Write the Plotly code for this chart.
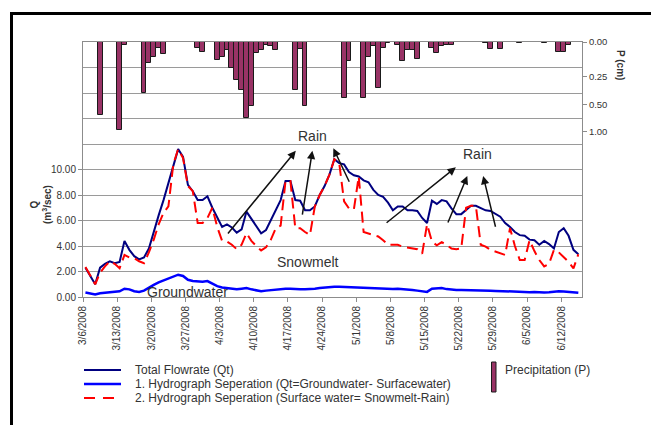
import numpy as np
import pandas as pd
import plotly.graph_objects as go

# ---- data -------------------------------------------------------------
START = pd.Timestamp("2008-03-06")
N_DAYS = 102
dates = [START + pd.Timedelta(days=i, hours=12) for i in range(N_DAYS)]

# Total flowrate Qt (m3/s)
total_flow = [
    2.3, 1.7, 1.0, 2.3, 2.6, 2.8, 2.65, 2.75, 4.4, 3.7,
    3.2, 2.95, 3.1, 3.8, 5.2, 6.4, 7.6, 8.9, 10.4, 11.6,
    11.0, 8.8, 8.3, 7.6, 7.6, 7.9, 7.0, 6.3, 5.5, 5.7,
    5.45, 5.05, 5.3, 6.7, 6.1, 5.5, 5.0, 5.25, 6.05, 6.8,
    7.6, 9.1, 9.1, 7.6, 7.55, 6.8, 6.8, 7.1, 8.0, 8.7,
    9.6, 10.8, 10.5, 10.4, 9.8, 9.55, 9.45, 9.15, 9.0, 8.4,
    8.0, 7.85, 7.4, 6.8, 7.1, 7.1, 6.8, 6.8, 6.75, 6.2,
    5.8, 7.55, 7.3, 7.6, 7.5, 6.95, 6.5, 6.5, 6.8, 7.15,
    7.15, 6.95, 6.8, 6.75, 6.55, 6.3, 5.8, 5.5, 5.1, 4.85,
    4.8, 4.5, 4.45, 4.1, 4.4, 4.15, 3.8, 5.1, 5.4, 4.8,
    3.7, 3.35,
]

# Separation 1: groundwater component
groundwater = [
    0.35, 0.3, 0.2, 0.3, 0.35, 0.4, 0.4, 0.45, 0.65, 0.6,
    0.45, 0.4, 0.5, 0.75, 0.95, 1.15, 1.3, 1.45, 1.6, 1.75,
    1.65, 1.35, 1.25, 1.2, 1.2, 1.25, 1.05, 0.85, 0.75, 0.7,
    0.65, 0.6, 0.65, 0.7, 0.6, 0.5, 0.45, 0.5, 0.55, 0.55,
    0.6, 0.65, 0.65, 0.6, 0.6, 0.6, 0.6, 0.65, 0.7, 0.75,
    0.8, 0.8, 0.8, 0.78, 0.76, 0.75, 0.75, 0.72, 0.7, 0.68,
    0.66, 0.63, 0.6, 0.62, 0.65, 0.63, 0.6, 0.55, 0.5, 0.45,
    0.4, 0.65, 0.68, 0.7, 0.62, 0.56, 0.55, 0.55, 0.55, 0.55,
    0.54, 0.52, 0.5, 0.5, 0.48, 0.46, 0.44, 0.42, 0.4, 0.4,
    0.38, 0.38, 0.4, 0.36, 0.36, 0.38, 0.42, 0.45, 0.44, 0.42,
    0.36, 0.33,
]

# Separation 2: surface water (snowmelt + rain)
surface_water = [
    2.35, 1.7, 1.0, 1.9, 2.4, 2.8, 2.6, 2.25, 3.3, 3.1,
    3.05, 2.8, 2.65, 3.5, 4.5, 5.7, 6.6, 7.1, 10.4, 11.6,
    10.9, 8.7, 8.3, 5.8, 5.8, 6.2, 7.0, 5.5, 4.4, 4.35,
    4.1, 3.75, 4.1, 5.0, 4.4, 4.0, 3.65, 3.9, 4.5, 5.4,
    5.6, 9.1, 9.1, 5.4, 5.4, 5.1, 4.85, 7.1, 8.0, 8.7,
    9.6, 10.8, 10.5, 7.5, 6.95, 6.85, 9.45, 5.1, 5.0, 4.85,
    4.75, 4.45, 4.1, 4.1, 4.1, 3.95, 3.9, 3.8, 3.75, 3.4,
    5.7, 4.35, 4.05, 4.3, 4.1, 3.8, 3.75, 3.8, 7.0, 7.15,
    7.15, 4.1, 3.95, 3.7, 3.55, 3.4, 3.3, 5.4, 4.0, 2.9,
    2.9, 4.45, 3.6, 2.9, 2.4, 2.6, 3.7, 3.5, 3.15, 2.75,
    2.25, 3.35,
]

# Daily precipitation P (cm)
precip_cm = [
    0, 0, 0, 0.69, 0, 0, 0, 0.97, 0.02, 0,
    0, 0, 0.39, 0.15, 0.11, 0.04, 0.09, 0, 0, 0,
    0, 0, 0, 0.04, 0.07, 0, 0, 0.13, 0.11, 0.06,
    0.19, 0.28, 0.37, 0.74, 0.52, 0.08, 0.06, 0.02, 0.03, 0.06,
    0, 0, 0, 0.37, 0.05, 0.51, 0, 0, 0, 0,
    0, 0, 0, 0.44, 0.14, 0, 0, 0.44, 0.11, 0.03,
    0.35, 0.04, 0.01, 0, 0.02, 0.14, 0.06, 0.06, 0.12, 0,
    0, 0.04, 0.08, 0.03, 0.02, 0.02, 0, 0, 0, 0,
    0, 0, 0.01, 0.05, 0, 0.05, 0, 0, 0, 0.005,
    0, 0, 0, 0, 0.005, 0, 0, 0.07, 0.07, 0.02,
    0, 0,
]

week_ticks = pd.date_range("2008-03-06", "2008-06-12", freq="7D")
week_labels = [f"{d.month}/{d.day}/{d.year}" for d in week_ticks]

q_ticks = list(range(0, 11, 2))
q_labels = [f"{v:.2f}" for v in q_ticks]
q_upper_grid = list(range(12, 21, 2))

# The precipitation axis hangs from the top with unevenly spaced ticks;
# values are placed through that piecewise scale (fraction of plot height).
P_TICKS = [0.0, 0.25, 0.50, 1.00]
P_TICK_LABELS = ["0.00", "0.25", "0.50", "1.00"]
P_TICK_POS = [0.0, 0.136, 0.247, 0.352]


def p_scale(v):
    return float(np.interp(v, P_TICKS + [2.0], P_TICK_POS + [0.562]))


# ---- figure geometry ----------------------------------------------------
W, H = 651, 425
ML, MR, MT, MB = 83, 69, 42, 128
PW, PH = W - ML - MR, H - MT - MB


def px(xp):
    return (xp - ML) / PW


def py(yp):
    return (H - MB - yp) / PH


FONT = "Liberation Sans, Arial, sans-serif"
TXT = "#333333"
AX = "#8c8c8c"
GRID = "#9a9a9a"
BAR_FILL = "#993366"

fig = go.Figure()

fig.add_trace(go.Bar(
    x=dates,
    y=[p_scale(p) if p > 0 else None for p in precip_cm],
    yaxis="y2",
    width=86400000,
    marker=dict(color=BAR_FILL, line=dict(color="#1a1a1a", width=1)),
    name="Precipitation (P)",
    showlegend=False,
))
fig.add_trace(go.Scatter(
    x=dates, y=total_flow, mode="lines",
    line=dict(color="#000080", width=2),
    name="Total Flowrate (Qt)", showlegend=False,
))
fig.add_trace(go.Scatter(
    x=dates, y=surface_water, mode="lines",
    line=dict(color="#ff0000", width=2, dash="11px,6px"),
    name="2. Hydrograph Seperation", showlegend=False,
))
fig.add_trace(go.Scatter(
    x=dates, y=groundwater, mode="lines",
    line=dict(color="#0000ff", width=2.5),
    name="1. Hydrograph Seperation", showlegend=False,
))

fig.update_layout(
    width=W, height=H,
    margin=dict(l=ML, r=MR, t=MT, b=MB, pad=0),
    paper_bgcolor="white", plot_bgcolor="white",
    font=dict(family=FONT, color=TXT),
    bargap=0,
    xaxis=dict(
        type="date",
        range=[START, pd.Timestamp("2008-06-16 06:00")],
        tickvals=list(week_ticks), ticktext=week_labels,
        tickangle=-90, tickfont=dict(size=10, color=TXT),
        ticks="outside", ticklen=4, tickcolor=AX,
        showline=True, linecolor=AX, linewidth=1, mirror=True,
        showgrid=False, zeroline=False,
    ),
    yaxis=dict(
        range=[0, 20],
        tickvals=q_ticks, ticktext=q_labels,
        tickfont=dict(size=10, color=TXT),
        ticks="outside", ticklen=4, tickcolor=AX,
        showline=True, linecolor=AX, linewidth=1,
        showgrid=True, gridcolor=GRID, gridwidth=1,
        minor=dict(tickvals=q_upper_grid, showgrid=True,
                   gridcolor=GRID, gridwidth=1, ticks=""),
        zeroline=False,
    ),
    yaxis2=dict(
        overlaying="y", side="right",
        range=[1, 0],
        tickvals=[p_scale(v) for v in P_TICKS], ticktext=P_TICK_LABELS,
        tickfont=dict(size=9.5, color=TXT),
        ticks="outside", ticklen=4, tickcolor=AX,
        showline=True, linecolor=AX, linewidth=1,
        showgrid=False, zeroline=False,
    ),
)


def day(d):
    return START + pd.Timedelta(days=d)


annotations = [
    # axis titles
    dict(x=px(41), y=py(205), xref="paper", yref="paper",
         xanchor="center", yanchor="middle",
         text="<b>Q</b><br><b>(m<sup>3</sup>/sec)</b>", textangle=-90,
         showarrow=False, font=dict(size=10, color=TXT)),
    dict(x=px(621), y=py(65), xref="paper", yref="paper",
         xanchor="center", yanchor="middle",
         text="<b>P (cm)</b>", textangle=90,
         showarrow=False, font=dict(size=10, color=TXT)),
    # labels inside the chart
    dict(x=day(47.1), y=12.63, text="Rain", showarrow=False,
         font=dict(size=14, color=TXT)),
    dict(x=day(80.9), y=11.2, text="Rain", showarrow=False,
         font=dict(size=14, color=TXT)),
    dict(x=day(46.1), y=2.75, text="Snowmelt", showarrow=False,
         font=dict(size=14, color=TXT)),
    dict(x=day(21.5), y=0.39, text="Groundwater", showarrow=False,
         font=dict(size=14, color=TXT)),
]

# rain arrows: (tail day, tail Q, head day, head Q)
arrows = [
    (29.45, 4.86, 43.6, 11.47),
    (44.9, 6.35, 47.0, 11.47),
    (54.7, 8.92, 51.3, 11.66),
    (61.9, 5.73, 76.4, 10.17),
    (74.65, 5.73, 78.75, 9.49),
    (84.6, 5.39, 82.0, 9.49),
]
for td, tq, hd, hq in arrows:
    annotations.append(dict(
        x=day(hd), y=hq, ax=day(td), ay=tq,
        xref="x", yref="y", axref="x", ayref="y",
        text="", showarrow=True, arrowhead=2, arrowsize=1.1,
        arrowwidth=1.5, arrowcolor="#111111",
    ))

# legend entries
legend_rows = [
    ("Total Flowrate (Qt)", 370),
    ("1. Hydrograph Seperation (Qt=Groundwater- Surfacewater)", 384),
    ("2. Hydrograph Seperation (Surface water= Snowmelt-Rain)", 398),
]
for label, yrow in legend_rows:
    annotations.append(dict(
        x=px(133), y=py(yrow), xref="paper", yref="paper",
        xanchor="left", yanchor="middle", text=label, showarrow=False,
        font=dict(size=12, color=TXT),
    ))
annotations.append(dict(
    x=px(503), y=py(370), xref="paper", yref="paper",
    xanchor="left", yanchor="middle", text="Precipitation (P)",
    showarrow=False, font=dict(size=12, color=TXT),
))

shapes = [
    # outer frame (left and top edges)
    dict(type="line", xref="paper", yref="paper",
         x0=px(11.5), x1=px(11.5), y0=py(12), y1=py(430),
         line=dict(color="black", width=3)),
    dict(type="line", xref="paper", yref="paper",
         x0=px(10), x1=px(660), y0=py(13.5), y1=py(13.5),
         line=dict(color="black", width=3)),
    # legend keys
    dict(type="line", xref="paper", yref="paper",
         x0=px(84), x1=px(121), y0=py(370), y1=py(370),
         line=dict(color="#000080", width=2)),
    dict(type="line", xref="paper", yref="paper",
         x0=px(84), x1=px(121), y0=py(384), y1=py(384),
         line=dict(color="#0000ff", width=2.5)),
    dict(type="line", xref="paper", yref="paper",
         x0=px(84), x1=px(121), y0=py(398), y1=py(398),
         line=dict(color="#ff0000", width=2, dash="11px,8px")),
    dict(type="rect", xref="paper", yref="paper",
         x0=px(491.5), x1=px(496), y0=py(362), y1=py(392),
         fillcolor=BAR_FILL, line=dict(color="#1a1a1a", width=1)),
]

fig.update_layout(annotations=annotations, shapes=shapes)

fig.write_html("out.html")
